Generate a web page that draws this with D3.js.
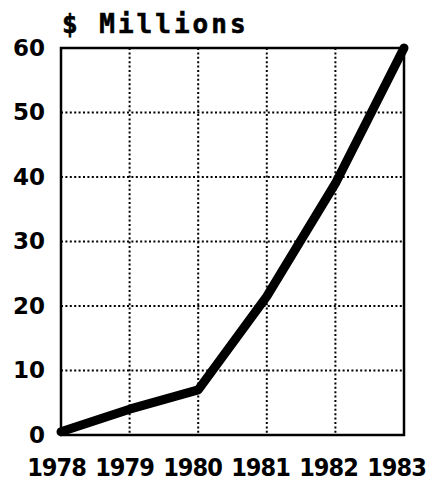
<!DOCTYPE html>
<html>
<head>
<meta charset="utf-8">
<script src="https://cdn.jsdelivr.net/npm/d3@7"></script>
<style>
  body { margin: 0; background: #fff; }
  .domain { display: none; }
</style>
</head>
<body>
<div id="chart-area"></div>
<script>
// data
const years = [1978, 1979, 1980, 1981, 1982, 1983]
const millions = [0.5, 4, 7, 21.5, 39, 60]
const yTicks = [0, 10, 20, 30, 40, 50, 60]

const MARGIN = { LEFT: 61, RIGHT: 39, TOP: 48, BOTTOM: 48 }
const WIDTH = 443 - MARGIN.LEFT - MARGIN.RIGHT
const HEIGHT = 483 - MARGIN.TOP - MARGIN.BOTTOM

const svg = d3.select("#chart-area").append("svg")
	.attr("width", 443)
	.attr("height", 483)

const g = svg.append("g")
	.attr("transform", `translate(${MARGIN.LEFT}, ${MARGIN.TOP})`)

// scales
const x = d3.scaleLinear().domain([1978, 1983]).range([0, WIDTH])
const y = d3.scaleLinear().domain([0, 60]).range([HEIGHT, 0])
// year labels sit a little left of their gridlines in the original
const xLab = d3.scalePoint().domain(years).range([-5, WIDTH - 8])

// dotted grid
g.selectAll(".vgrid")
	.data(years.slice(1, -1))
	.enter().append("line")
	.attr("x1", d => x(d)).attr("x2", d => x(d))
	.attr("y1", 0).attr("y2", HEIGHT)
	.attr("stroke", "#000")
	.attr("stroke-width", 2)
	.attr("stroke-dasharray", "2,2.4")

g.selectAll(".hgrid")
	.data(yTicks.slice(1, -1))
	.enter().append("line")
	.attr("x1", 0).attr("x2", WIDTH)
	.attr("y1", d => y(d)).attr("y2", d => y(d))
	.attr("stroke", "#000")
	.attr("stroke-width", 2)
	.attr("stroke-dasharray", "2,2.4")

// frame
g.append("rect")
	.attr("width", WIDTH)
	.attr("height", HEIGHT)
	.attr("fill", "none")
	.attr("stroke", "#000")
	.attr("stroke-width", 2.5)

// y axis labels
const yAxisCall = d3.axisLeft(y).tickValues(yTicks).tickSize(0).tickPadding(16)
g.append("g").call(yAxisCall)
	.selectAll("text")
	.attr("font-family", "'DejaVu Sans', sans-serif")
	.attr("font-weight", "bold")
	.attr("font-size", "23px")
	.attr("fill", "#000")

// x axis labels
const xAxisCall = d3.axisBottom(xLab).tickSize(0).tickPadding(23).tickFormat(d3.format("d"))
g.append("g")
	.attr("transform", `translate(0, ${HEIGHT})`)
	.call(xAxisCall)
	.selectAll("text")
	.attr("font-family", "'DejaVu Sans Condensed', 'DejaVu Sans', sans-serif")
	.attr("font-weight", "bold")
	.attr("font-size", "25px")
	.attr("letter-spacing", "-1px")
	.attr("fill", "#000")

// title
svg.append("text")
	.attr("x", 62)
	.attr("y", 33)
	.attr("font-family", "'DejaVu Sans Mono', monospace")
	.attr("font-weight", "bold")
	.attr("font-size", "26px")
	.attr("letter-spacing", "3px")
	.attr("stroke", "#000")
	.attr("stroke-width", 0.6)
	.text("$ Millions")

// the line
const line = d3.line()
	.x((d, i) => x(years[i]))
	.y(d => y(d))

g.append("path")
	.attr("d", line(millions))
	.attr("fill", "none")
	.attr("stroke", "#000")
	.attr("stroke-width", 9)
	.attr("stroke-linejoin", "round")
	.attr("stroke-linecap", "round")
</script>
</body>
</html>
